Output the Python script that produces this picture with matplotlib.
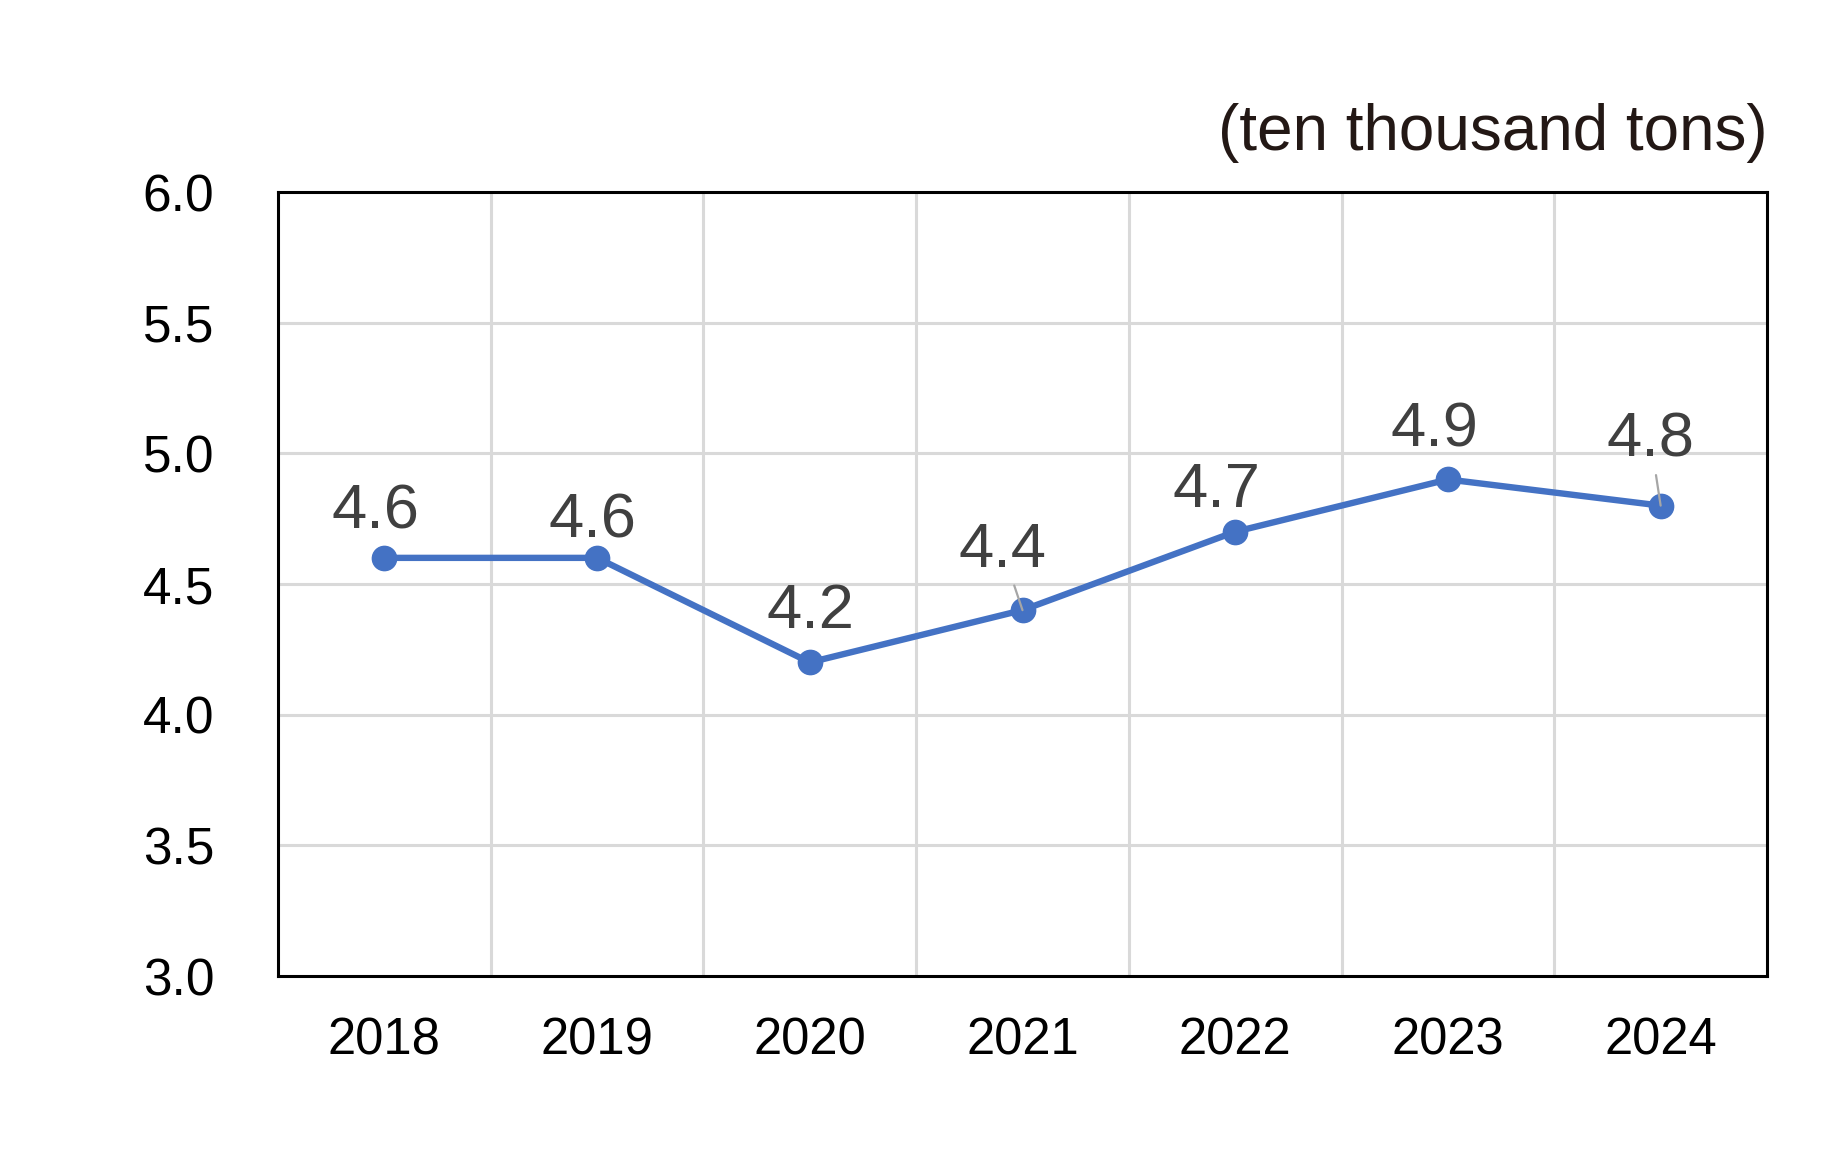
import matplotlib
matplotlib.use("Agg")
import matplotlib.pyplot as plt

# data
years = ["2018", "2019", "2020", "2021", "2022", "2023", "2024"]
volume = [4.6, 4.6, 4.2, 4.4, 4.7, 4.9, 4.8]
unit_label = "(ten thousand tons)"

# label placement (offset from point in pt), and which get a leader line
label_dx = [-6.5, -3.6, 0.7, -14.4, -13.7, -10, -7.2]
label_dy = [21, 14.4, 24.5, 31, 18, 23.8, 35.3]
leader = [False, False, False, True, False, False, True]

plt.rcParams["font.family"] = ["Liberation Sans", "DejaVu Sans"]

line_color = "#4472C4"
grid_color = "#d9d9d9"

fig = plt.figure(figsize=(18.22, 11.57), dpi=100)
ax = fig.add_axes([278/1822, 1-976/1157, (1767-278)/1822, (976-192)/1157])

x = list(range(len(years)))
ax.plot(x, volume, color=line_color, lw=4.6, marker="o", ms=17.5,
        solid_capstyle="round", zorder=3)

ax.set_xlim(-0.5, len(years) - 0.5)
ax.set_ylim(3.0, 6.0)
ax.set_yticks([3.0, 3.5, 4.0, 4.5, 5.0, 5.5, 6.0])
ax.set_yticklabels([f"{v:.1f}" for v in ax.get_yticks()])
ax.set_xticks(x)
ax.set_xticklabels(years)

# gridlines on category boundaries and y ticks
for b in range(1, len(years)):
    ax.axvline(b - 0.5, color=grid_color, lw=2.2, zorder=1)
for v in [3.5, 4.0, 4.5, 5.0, 5.5]:
    ax.axhline(v, color=grid_color, lw=2.2, zorder=1)

for s in ax.spines.values():
    s.set_linewidth(2.2)
    s.set_color("black")
    s.set_zorder(4)

ax.tick_params(axis="y", length=0, pad=46, labelsize=37, colors="black")
ax.tick_params(axis="x", length=0, pad=29, labelsize=36.5, colors="black")

for i, v in enumerate(volume):
    kw = {}
    if leader[i]:
        kw["arrowprops"] = dict(arrowstyle="-", color="#a6a6a6", lw=1.6,
                                shrinkA=2, shrinkB=0)
    ax.annotate(f"{v:.1f}", xy=(i, v), xytext=(label_dx[i], label_dy[i]),
                textcoords="offset points", ha="center", va="baseline",
                fontsize=45.5, color="#404040", zorder=5, **kw)

fig.text(1768/1822, 1-150/1157, unit_label, ha="right", va="baseline",
         fontsize=46, color="#231815")

fig.savefig("out.png", dpi=100, facecolor="white")
